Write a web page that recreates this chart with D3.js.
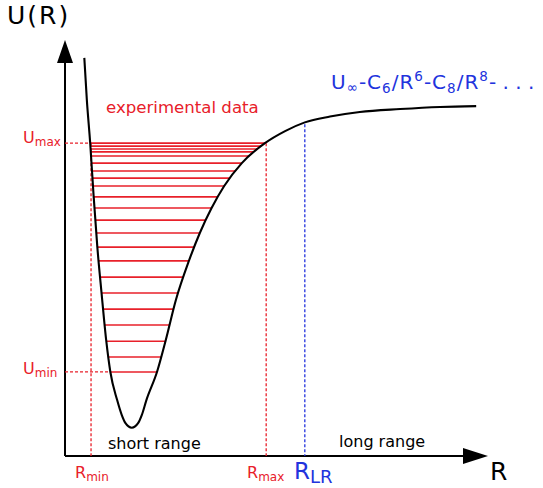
<!DOCTYPE html>
<html>
<head>
<meta charset="utf-8">
<script src="https://cdn.jsdelivr.net/npm/d3@7"></script>
<style>
  body { margin: 0; background: #fff; }
  svg text { font-family: "DejaVu Sans", Verdana, sans-serif; }
</style>
</head>
<body>
<div id="chart"></div>
<script>
// potential curve U(R), schematic units
const curveR = [0.46, 0.52, 0.60, 0.68, 0.77, 0.87, 0.98, 1.08, 1.24, 1.35, 1.44,
  1.59, 1.74, 1.83, 1.94, 2.19, 2.40, 2.64, 2.95, 3.21, 3.49, 3.79, 4.21, 4.76,
  5.24, 5.71, 6.31, 7.02, 7.98, 8.93, 9.79];
const curveU = [9.57, 8.56, 7.52, 6.27, 5.02, 3.92, 2.79, 2.02, 1.35, 0.99, 0.79,
  0.68, 0.79, 0.99, 1.35, 2.02, 2.79, 3.75, 4.69, 5.36, 5.96, 6.49, 7.04, 7.52,
  7.81, 8.02, 8.16, 8.27, 8.34, 8.39, 8.41];

// vibrational levels (experimental data)
const levels = [7.52, 7.45, 7.38, 7.31, 7.21, 7.04, 6.85, 6.68, 6.49, 6.23, 5.96,
  5.67, 5.36, 5.02, 4.69, 4.30, 3.92, 3.53, 3.15, 2.76, 2.38, 2.02];

const Umax = 7.52, Umin = 2.02;
const Rmin = 0.62, Rmax = 4.79, RLR = 5.71;

const width = 543, height = 488;
const red = '#e8202a', blue = '#2233dd';

const svg = d3.select('#chart').append('svg')
    .attr('width', width)
    .attr('height', height);

const x = d3.scaleLinear().domain([0, 10]).range([65, 485]);
const y = d3.scaleLinear().domain([0, 10]).range([456, 40]);

// axes with arrow heads
svg.append('line')
    .attr('x1', x(0)).attr('y1', y(0))
    .attr('x2', x(0)).attr('y2', 62)
    .attr('stroke', '#000').attr('stroke-width', 2);
svg.append('path')
    .attr('d', `M${x(0)},40 L${x(0) - 8},63 L${x(0) + 8},63 Z`)
    .attr('fill', '#000');
svg.append('line')
    .attr('x1', x(0)).attr('y1', y(0))
    .attr('x2', 465).attr('y2', y(0))
    .attr('stroke', '#000').attr('stroke-width', 2);
svg.append('path')
    .attr('d', `M488,${y(0)} L463,${y(0) - 8} L463,${y(0) + 8} Z`)
    .attr('fill', '#000');

// potential curve
const line = d3.line()
    .x(d => x(d[0]))
    .y(d => y(d[1]))
    .curve(d3.curveMonotoneX);

const curvePath = svg.append('path')
    .datum(curveR.map((r, i) => [r, curveU[i]]))
    .attr('d', line)
    .attr('fill', 'none')
    .attr('stroke', '#000')
    .attr('stroke-width', 2.1);

// sample the drawn curve to find turning points
const node = curvePath.node();
const total = node.getTotalLength();
const pts = d3.range(0, total, 0.5).map(l => node.getPointAtLength(l));
const iMin = d3.maxIndex(pts, p => p.y);
const leftBranch = pts.slice(0, iMin + 1);
const rightBranch = pts.slice(iMin);

function crossing(branch, py) {
  for (let i = 0; i < branch.length - 1; i++) {
    const a = branch[i], b = branch[i + 1];
    if ((a.y - py) * (b.y - py) <= 0 && a.y !== b.y) {
      return a.x + (py - a.y) / (b.y - a.y) * (b.x - a.x);
    }
  }
  return null;
}
function curveAtX(px) {
  for (let i = 0; i < rightBranch.length - 1; i++) {
    const a = rightBranch[i], b = rightBranch[i + 1];
    if ((a.x - px) * (b.x - px) <= 0 && a.x !== b.x) {
      return a.y + (px - a.x) / (b.x - a.x) * (b.y - a.y);
    }
  }
  return y(0);
}

// dashed guides
const dashed = svg.append('g')
    .attr('fill', 'none')
    .attr('stroke-width', 1.3)
    .attr('stroke-dasharray', '3,2');

dashed.append('line')
    .attr('x1', x(0)).attr('x2', x(Rmin))
    .attr('y1', y(Umax)).attr('y2', y(Umax))
    .attr('stroke', red);
dashed.append('line')
    .attr('x1', x(0)).attr('x2', crossing(leftBranch, y(Umin)))
    .attr('y1', y(Umin)).attr('y2', y(Umin))
    .attr('stroke', red);
dashed.append('line')
    .attr('x1', x(Rmin)).attr('x2', x(Rmin))
    .attr('y1', y(Umax)).attr('y2', y(0))
    .attr('stroke', red);
dashed.append('line')
    .attr('x1', x(Rmax)).attr('x2', x(Rmax))
    .attr('y1', y(Umax)).attr('y2', y(0))
    .attr('stroke', red);
dashed.append('line')
    .attr('x1', x(RLR)).attr('x2', x(RLR))
    .attr('y1', curveAtX(x(RLR)) + 2).attr('y2', y(0))
    .attr('stroke', blue);

// levels
svg.append('g')
  .selectAll('line')
  .data(levels)
  .join('line')
    .attr('x1', d => crossing(leftBranch, y(d)))
    .attr('x2', d => crossing(rightBranch, y(d)))
    .attr('y1', d => y(d))
    .attr('y2', d => y(d))
    .attr('stroke', red)
    .attr('stroke-width', 1.6);

curvePath.raise();

// texts
svg.append('text')
    .attr('x', 7).attr('y', 24)
    .attr('font-size', 25)
    .attr('letter-spacing', 2)
    .text('U(R)');

svg.append('text')
    .attr('x', 490).attr('y', 480)
    .attr('font-size', 25)
    .text('R');

svg.append('text')
    .attr('x', 106).attr('y', 113)
    .attr('font-size', 16.6)
    .attr('fill', red)
    .text('experimental data');

svg.append('text')
    .attr('x', 108).attr('y', 449)
    .attr('font-size', 16)
    .text('short range');

svg.append('text')
    .attr('x', 339).attr('y', 447)
    .attr('font-size', 16)
    .text('long range');

function subLabel(px, py, main, sub, color, size, subSize, shift) {
  const t = svg.append('text')
      .attr('x', px).attr('y', py)
      .attr('fill', color)
      .attr('font-size', size);
  t.append('tspan').text(main);
  t.append('tspan')
      .attr('font-size', subSize)
      .attr('dy', shift)
      .text(sub);
}
subLabel(23, 143, 'U', 'max', red, 16, 12, 3);
subLabel(23, 374, 'U', 'min', red, 16, 12, 3);
subLabel(75, 478, 'R', 'min', red, 16, 12, 3);
subLabel(247, 478, 'R', 'max', red, 16, 12, 3);
subLabel(294, 479, 'R', 'LR', blue, 23, 18, 4);

// long range expansion
const formula = svg.append('text')
    .attr('x', 331).attr('y', 89)
    .attr('fill', blue)
    .attr('font-size', 20);
const parts = [
  ['U', 0, 20], ['\u221e', 3, 13.5], ['-C', -3, 20], ['6', 4, 13.5],
  ['/R', -4, 20], ['6', -8, 13.5], ['-C', 8, 20], ['8', 4, 13.5],
  ['/R', -4, 20], ['8', -8, 13.5], ['- . . .', 8, 20]
];
parts.forEach((p, i) => {
  formula.append('tspan')
      .attr('dy', p[1])
      .attr('font-size', p[2])
      .attr('letter-spacing', i < parts.length - 1 ? 1 : 0)
      .text(p[0]);
});
</script>
</body>
</html>
